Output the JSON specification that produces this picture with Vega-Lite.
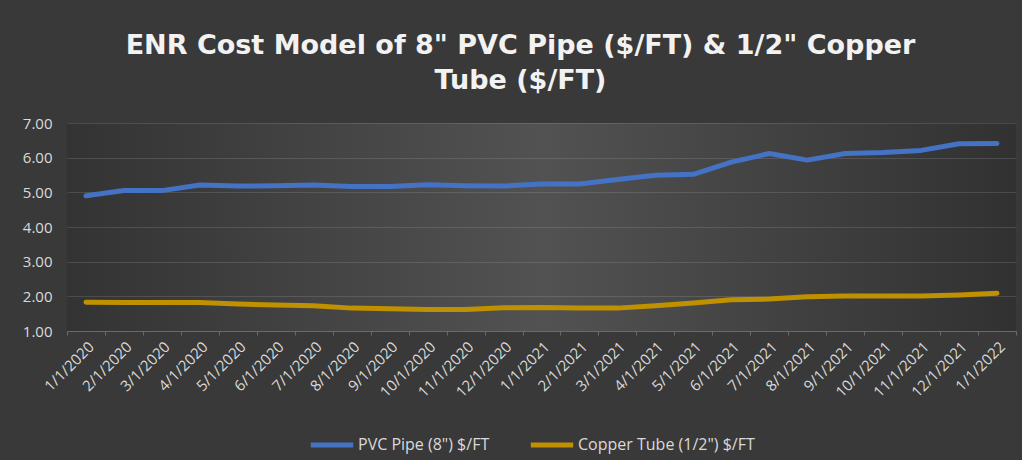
{
  "$schema": "https://vega.github.io/schema/vega-lite/v6.json",
  "width": 949,
  "height": 208,
  "padding": {"left": 22, "top": 32, "right": 5, "bottom": 5},
  "background": "#393939",
  "title": {
    "text": ["ENR Cost Model of 8\" PVC Pipe ($/FT) & 1/2\" Copper", "Tube ($/FT)"],
    "font": "DejaVu Sans",
    "fontSize": 27,
    "fontWeight": "bold",
    "color": "#f2f2f2",
    "lineHeight": 35,
    "offset": 21,
    "dx": -21,
    "anchor": "middle",
    "limit": 1000
  },
  "config": {
    "view": {
      "stroke": null,
      "fill": {
        "gradient": "linear",
        "x1": 0, "y1": 0.5, "x2": 1, "y2": 0.5,
        "stops": [
          {"offset": 0, "color": "#333333"},
          {"offset": 0.5, "color": "#525252"},
          {"offset": 1, "color": "#313131"}
        ]
      }
    },
    "font": "Open Sans"
  },
  "datasets": {
    "d": [
      {"date": "1/1/2020", "series": "PVC Pipe (8\") $/FT", "value": 4.90},
      {"date": "2/1/2020", "series": "PVC Pipe (8\") $/FT", "value": 5.05},
      {"date": "3/1/2020", "series": "PVC Pipe (8\") $/FT", "value": 5.05},
      {"date": "4/1/2020", "series": "PVC Pipe (8\") $/FT", "value": 5.21},
      {"date": "5/1/2020", "series": "PVC Pipe (8\") $/FT", "value": 5.18},
      {"date": "6/1/2020", "series": "PVC Pipe (8\") $/FT", "value": 5.19},
      {"date": "7/1/2020", "series": "PVC Pipe (8\") $/FT", "value": 5.21},
      {"date": "8/1/2020", "series": "PVC Pipe (8\") $/FT", "value": 5.17},
      {"date": "9/1/2020", "series": "PVC Pipe (8\") $/FT", "value": 5.17},
      {"date": "10/1/2020", "series": "PVC Pipe (8\") $/FT", "value": 5.22},
      {"date": "11/1/2020", "series": "PVC Pipe (8\") $/FT", "value": 5.19},
      {"date": "12/1/2020", "series": "PVC Pipe (8\") $/FT", "value": 5.18},
      {"date": "1/1/2021", "series": "PVC Pipe (8\") $/FT", "value": 5.24},
      {"date": "2/1/2021", "series": "PVC Pipe (8\") $/FT", "value": 5.24},
      {"date": "3/1/2021", "series": "PVC Pipe (8\") $/FT", "value": 5.37},
      {"date": "4/1/2021", "series": "PVC Pipe (8\") $/FT", "value": 5.49},
      {"date": "5/1/2021", "series": "PVC Pipe (8\") $/FT", "value": 5.52},
      {"date": "6/1/2021", "series": "PVC Pipe (8\") $/FT", "value": 5.87},
      {"date": "7/1/2021", "series": "PVC Pipe (8\") $/FT", "value": 6.12},
      {"date": "8/1/2021", "series": "PVC Pipe (8\") $/FT", "value": 5.93},
      {"date": "9/1/2021", "series": "PVC Pipe (8\") $/FT", "value": 6.12},
      {"date": "10/1/2021", "series": "PVC Pipe (8\") $/FT", "value": 6.15},
      {"date": "11/1/2021", "series": "PVC Pipe (8\") $/FT", "value": 6.21},
      {"date": "12/1/2021", "series": "PVC Pipe (8\") $/FT", "value": 6.40},
      {"date": "1/1/2022", "series": "PVC Pipe (8\") $/FT", "value": 6.41},
      {"date": "1/1/2020", "series": "Copper Tube (1/2\") $/FT", "value": 1.83},
      {"date": "2/1/2020", "series": "Copper Tube (1/2\") $/FT", "value": 1.82},
      {"date": "3/1/2020", "series": "Copper Tube (1/2\") $/FT", "value": 1.82},
      {"date": "4/1/2020", "series": "Copper Tube (1/2\") $/FT", "value": 1.82},
      {"date": "5/1/2020", "series": "Copper Tube (1/2\") $/FT", "value": 1.78},
      {"date": "6/1/2020", "series": "Copper Tube (1/2\") $/FT", "value": 1.75},
      {"date": "7/1/2020", "series": "Copper Tube (1/2\") $/FT", "value": 1.73},
      {"date": "8/1/2020", "series": "Copper Tube (1/2\") $/FT", "value": 1.66},
      {"date": "9/1/2020", "series": "Copper Tube (1/2\") $/FT", "value": 1.64},
      {"date": "10/1/2020", "series": "Copper Tube (1/2\") $/FT", "value": 1.62},
      {"date": "11/1/2020", "series": "Copper Tube (1/2\") $/FT", "value": 1.62},
      {"date": "12/1/2020", "series": "Copper Tube (1/2\") $/FT", "value": 1.67},
      {"date": "1/1/2021", "series": "Copper Tube (1/2\") $/FT", "value": 1.68},
      {"date": "2/1/2021", "series": "Copper Tube (1/2\") $/FT", "value": 1.66},
      {"date": "3/1/2021", "series": "Copper Tube (1/2\") $/FT", "value": 1.66},
      {"date": "4/1/2021", "series": "Copper Tube (1/2\") $/FT", "value": 1.73},
      {"date": "5/1/2021", "series": "Copper Tube (1/2\") $/FT", "value": 1.81},
      {"date": "6/1/2021", "series": "Copper Tube (1/2\") $/FT", "value": 1.90},
      {"date": "7/1/2021", "series": "Copper Tube (1/2\") $/FT", "value": 1.92},
      {"date": "8/1/2021", "series": "Copper Tube (1/2\") $/FT", "value": 1.99},
      {"date": "9/1/2021", "series": "Copper Tube (1/2\") $/FT", "value": 2.01},
      {"date": "10/1/2021", "series": "Copper Tube (1/2\") $/FT", "value": 2.01},
      {"date": "11/1/2021", "series": "Copper Tube (1/2\") $/FT", "value": 2.01},
      {"date": "12/1/2021", "series": "Copper Tube (1/2\") $/FT", "value": 2.04},
      {"date": "1/1/2022", "series": "Copper Tube (1/2\") $/FT", "value": 2.09}
    ]
  },
  "data": {"name": "d"},
  "mark": {"type": "line", "strokeWidth": 5, "strokeCap": "round", "strokeJoin": "round"},
  "encoding": {
    "x": {
      "field": "date",
      "type": "ordinal",
      "sort": null,
      "bandPosition": 0.5,
      "scale": {"type": "band", "paddingInner": 0, "paddingOuter": 0},
      "axis": {
        "title": null,
        "labelAngle": -45,
        "labelFont": "Open Sans",
        "labelFontSize": 15,
        "labelColor": "#d9d9d9",
        "tickBand": "extent",
        "tickColor": "#6a6a6a",
        "tickSize": 4,
        "domainColor": "#6a6a6a",
        "labelPadding": 4,
        "grid": false
      }
    },
    "y": {
      "field": "value",
      "type": "quantitative",
      "scale": {"domain": [1, 7], "nice": false, "zero": false},
      "axis": {
        "title": null,
        "values": [1, 2, 3, 4, 5, 6, 7],
        "format": ".2f",
        "labelFont": "Open Sans",
        "labelFontSize": 15,
        "labelColor": "#d9d9d9",
        "domain": false,
        "ticks": false,
        "labelPadding": 15,
        "gridColor": "#ffffff",
        "gridOpacity": 0.12
      }
    },
    "color": {
      "field": "series",
      "type": "nominal",
      "scale": {
        "domain": ["PVC Pipe (8\") $/FT", "Copper Tube (1/2\") $/FT"],
        "range": ["#4472C4", "#BF9000"]
      },
      "legend": {
        "orient": "none",
        "legendX": 241,
        "legendY": 298,
        "direction": "horizontal",
        "title": null,
        "symbolType": "stroke",
        "symbolStrokeWidth": 5,
        "symbolSize": 1800,
        "labelFont": "Open Sans",
        "labelFontSize": 16,
        "labelColor": "#d9d9d9",
        "labelOffset": 2,
        "labelLimit": 400,
        "columnPadding": 30
      }
    }
  }
}
